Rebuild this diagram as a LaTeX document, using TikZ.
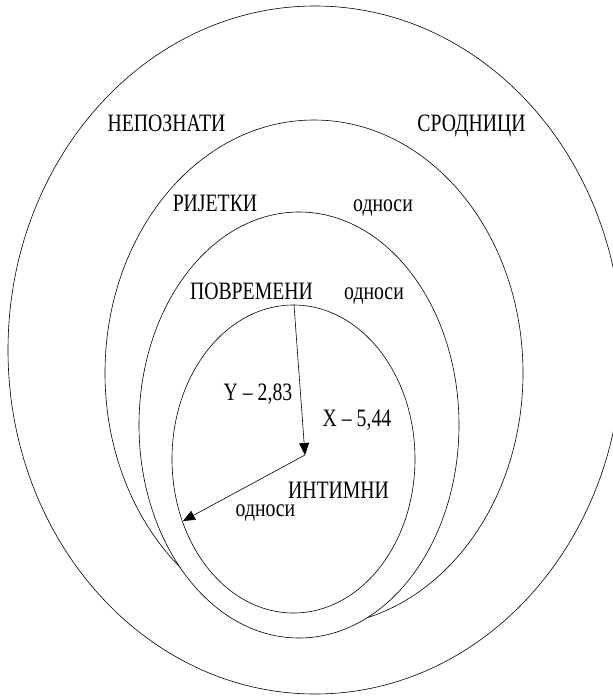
\documentclass[tikz,border=0pt]{standalone}
\usepackage{fontspec}
\setmainfont{Liberation Serif}
\usepackage{graphicx}
\usetikzlibrary{arrows.meta}
\newcommand\narrowtxt[1]{\scalebox{0.79}[1]{#1}}
\begin{document}
\begin{tikzpicture}[x=1pt,y=-1pt, line width=0.6pt,
  lbl/.style={inner sep=0pt, anchor=base, font=\fontsize{25}{25}\selectfont},
  arr/.style={-{Triangle[length=12pt,width=10pt]}}]
\useasboundingbox (0,0) rectangle (613,696);
\clip (0,0) rectangle (613,696);
% ellipses
\draw (315,350) ellipse (307 and 344);
\draw (314,373) ellipse (209 and 253);
\draw[fill=white] (299,425) ellipse (160 and 213);
\draw (293.5,459) ellipse (121.5 and 154);
% labels
\node[lbl] (nep) at (166.5,131) {\narrowtxt{НЕПОЗНАТИ}};
\node[lbl] (srod) at (471.5,131) {\narrowtxt{СРОДНИЦИ}};
\node[lbl] (rij) at (215,211) {\narrowtxt{РИЈЕТКИ}};
\node[lbl] (odn1) at (383,211) {\narrowtxt{односи}};
\node[lbl] (povr) at (251.5,299) {\narrowtxt{ПОВРЕМЕНИ}};
\node[lbl] (odn2) at (374,299) {\narrowtxt{односи}};
\node[lbl] (ylab) at (258,400) {\narrowtxt{Y – 2,83}};
\node[lbl] (xlab) at (357,426.5) {\narrowtxt{X – 5,44}};
\node[lbl] (intim) at (338.5,498) {\narrowtxt{ИНТИМНИ}};
\node[lbl] (odn3) at (265.5,516) {\narrowtxt{односи}};
% arrows
\coordinate (top) at (294,305);
\coordinate (ctr) at (305,455);
\coordinate (lft) at (183,521);
\draw[arr] (top) -- (ctr);
\draw[arr] (ctr) -- (lft);
\end{tikzpicture}
\end{document}
